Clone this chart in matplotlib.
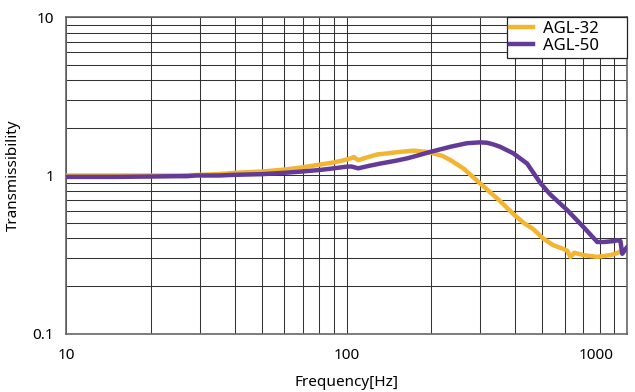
import matplotlib
matplotlib.use("Agg")
import matplotlib.pyplot as plt
from matplotlib.ticker import NullFormatter

# AGL-32 transmissibility curve
freq_32 = [10, 12, 15, 20, 25, 30, 35, 40, 50, 60, 68, 80, 90, 100, 104, 106,
           110, 118, 129, 140, 155, 173, 194, 204, 220, 235, 261, 300, 353,
           394, 430, 463, 503, 546, 590, 613, 630, 650, 699, 740, 785, 830,
           873, 910, 948, 1000]
trans_32 = [1.0, 1.0, 1.0, 1.0, 1.0, 1.01, 1.02, 1.04, 1.06, 1.09, 1.12, 1.17,
            1.21, 1.26, 1.29, 1.31, 1.25, 1.30, 1.36, 1.38, 1.41, 1.435, 1.41,
            1.38, 1.33, 1.25, 1.11, 0.89, 0.69, 0.57, 0.50, 0.46, 0.40, 0.363,
            0.345, 0.335, 0.305, 0.325, 0.314, 0.31, 0.306, 0.31, 0.314, 0.32,
            0.33, 0.346]

# AGL-50 transmissibility curve
freq_50 = [10, 15, 20, 25, 27, 29, 35, 40, 50, 60, 68, 80, 90, 100, 104, 110,
           120, 132, 150, 165, 180, 199, 215, 235, 269, 300, 318, 335, 353,
           394, 441, 491, 533, 613, 699, 785, 830, 900, 932, 950, 964, 1000]
trans_50 = [0.98, 0.98, 0.985, 0.99, 0.99, 1.0, 1.0, 1.01, 1.02, 1.04, 1.057,
            1.083, 1.11, 1.137, 1.14, 1.11, 1.15, 1.19, 1.24, 1.285, 1.34,
            1.41, 1.46, 1.52, 1.60, 1.62, 1.61, 1.57, 1.52, 1.38, 1.19, 0.90,
            0.76, 0.605, 0.475, 0.38, 0.38, 0.385, 0.39, 0.385, 0.32, 0.35]

series_names = ['AGL-32', 'AGL-50']
series_colors = ['#F3B531', '#633A98']

plt.rcParams['font.family'] = ['Noto Sans', 'DejaVu Sans']

fig = plt.figure(figsize=(6.35, 3.92), dpi=100)
ax = fig.add_axes([0.1047, 0.1487, 0.8822, 0.8072])

ax.plot(freq_32, trans_32, color=series_colors[0], lw=3.2, label=series_names[0],
        solid_joinstyle='round', zorder=3)
ax.plot(freq_50, trans_50, color=series_colors[1], lw=3.2, label=series_names[1],
        solid_joinstyle='round', zorder=4)

ax.set_xscale('log')
ax.set_yscale('log')
ax.set_xlim(10, 1000)
ax.set_ylim(0.1, 10)

ax.grid(True, which='both', color='#333333', lw=0.75)
ax.set_axisbelow(True)

ax.set_xticks([10, 100, 1000], ['10', '100', ''])
ax.set_yticks([0.1, 1, 10], ['0.1', '1', '10'])
ax.xaxis.set_minor_formatter(NullFormatter())
ax.yaxis.set_minor_formatter(NullFormatter())
ax.tick_params(which='both', length=0, labelsize=11)
ax.tick_params(axis='x', pad=10)
ax.tick_params(axis='y', pad=9)

# the 1000 label sits left of its gridline in the original
ax.annotate('1000', xy=(1000, 0), xycoords=ax.get_xaxis_transform(),
            xytext=(-22, -10), textcoords='offset points',
            ha='center', va='top', fontsize=11)

for s in ax.spines.values():
    s.set_color('#666666')
    s.set_linewidth(1.2)

ax.set_xlabel('Frequency[Hz]', fontsize=11, labelpad=9)
ax.set_ylabel('Transmissibility', fontsize=11, labelpad=8)

leg = ax.legend(loc='upper left', bbox_to_anchor=(0.786, 0.0, 0.214, 1.0),
                mode='expand', borderaxespad=0, fontsize=12, fancybox=False,
                framealpha=1, edgecolor='#222222', handlelength=1.4,
                handletextpad=0.6, borderpad=0.2, labelspacing=0.1)
leg.get_frame().set_linewidth(0.9)
leg.set_zorder(5)

fig.savefig('out.png', dpi=100)
